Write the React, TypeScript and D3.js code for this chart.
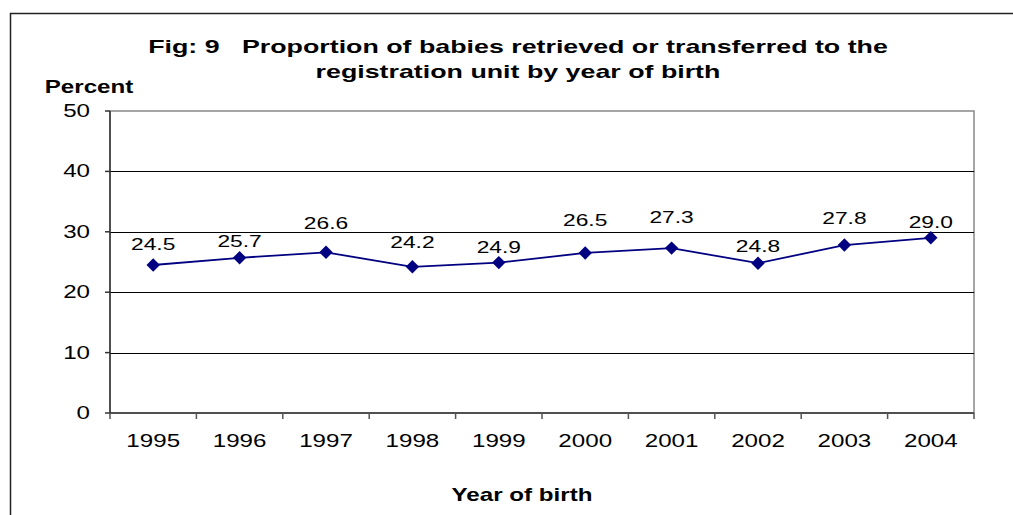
import React from "react";
import * as d3 from "d3";

const years = ["1995", "1996", "1997", "1998", "1999", "2000", "2001", "2002", "2003", "2004"];
const percents = [24.5, 25.7, 26.6, 24.2, 24.9, 26.5, 27.3, 24.8, 27.8, 29.0];
const yTicks = [0, 10, 20, 30, 40, 50];
const labelDy = [-15, -11, -23, -19, -10, -27, -25, -11, -21, -10];
const titleLines = [
  "Fig: 9\u00a0\u00a0\u00a0Proportion of babies retrieved or transferred to the",
  "registration unit by year of birth",
];

const W = 1013;
const H = 515;
const M = { left: 110, right: 974, top: 111, bottom: 413 };
const SX = 1.38;
const FONT = "'Liberation Sans', Arial, sans-serif";

function SText({ x, y, size, bold, anchor, sx, children }: any) {
  return (
    <text
      transform={`translate(${x},${y}) scale(${sx || SX},1)`}
      fontFamily={FONT}
      fontSize={size}
      fontWeight={bold ? "bold" : "normal"}
      textAnchor={anchor || "middle"}
      fill="#000"
    >
      {children}
    </text>
  );
}

export default function App() {
  const x = d3.scaleBand<string>().domain(years).range([M.left, M.right]);
  const y = d3.scaleLinear().domain([0, 50]).range([M.bottom, M.top]);
  const cx = (d: string) => (x(d) as number) + x.bandwidth() / 2;
  const line = d3
    .line<number>()
    .x((_, i) => cx(years[i]))
    .y((v) => y(v));
  const diamond = d3.symbol().type(d3.symbolDiamond2).size(115)();
  const xEdges = years.map((d) => x(d) as number).concat([M.right]);

  return (
    <svg width={W} height={H} style={{ position: "absolute", left: 0, top: 0, background: "#fff" }}>
      <rect x={0} y={0} width={W} height={H} fill="#fff" />
      {/* outer chart border */}
      <path d={`M10.5,${H} V13.5 H${W}`} fill="none" stroke="#222" strokeWidth={1.5} />
      {/* title */}
      {titleLines.map((t, i) => (
        <SText key={i} x={518} y={53 + i * 25} size={19} sx={1.41} bold>
          {t}
        </SText>
      ))}
      <SText x={89} y={93} size={17.5} bold>
        Percent
      </SText>
      {/* plot border */}
      <rect x={M.left} y={M.top} width={M.right - M.left} height={M.bottom - M.top} fill="none" stroke="#888" strokeWidth={1.5} />
      {/* gridlines */}
      {yTicks.slice(1, -1).map((t) => (
        <line key={t} x1={M.left} x2={M.right} y1={Math.round(y(t)) + 0.5} y2={Math.round(y(t)) + 0.5} stroke="#000" strokeWidth={1} />
      ))}
      {/* y axis */}
      <line x1={M.left} x2={M.left} y1={M.top} y2={M.bottom} stroke="#333" strokeWidth={1.5} />
      {yTicks.map((t) => (
        <g key={t}>
          <line x1={M.left - 5} x2={M.left} y1={y(t)} y2={y(t)} stroke="#333" strokeWidth={1.5} />
          <SText x={90} y={y(t) + 6} size={17.5} anchor="end">
            {t}
          </SText>
        </g>
      ))}
      {/* x axis */}
      <line x1={M.left} x2={M.right} y1={M.bottom} y2={M.bottom} stroke="#333" strokeWidth={1.5} />
      {xEdges.map((e, i) => (
        <line key={i} x1={e} x2={e} y1={M.bottom} y2={M.bottom + 6} stroke="#555" strokeWidth={1.5} />
      ))}
      {years.map((d) => (
        <SText key={d} x={cx(d)} y={447} size={17.5}>
          {d}
        </SText>
      ))}
      <SText x={522} y={501} size={17.5} bold>
        Year of birth
      </SText>
      {/* series */}
      <path d={line(percents) as string} fill="none" stroke="#000080" strokeWidth={1.8} />
      {percents.map((v, i) => (
        <path key={i} d={diamond as string} transform={`translate(${cx(years[i])},${y(v)})`} fill="#000080" />
      ))}
      {percents.map((v, i) => (
        <SText key={"l" + i} x={cx(years[i])} y={y(v) + labelDy[i]} size={16.5}>
          {v.toFixed(1)}
        </SText>
      ))}
    </svg>
  );
}
